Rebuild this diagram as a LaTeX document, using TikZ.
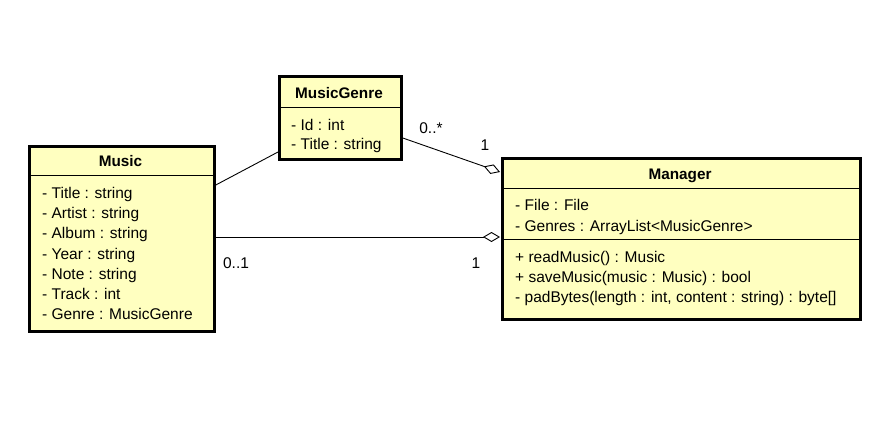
\documentclass[tikz,border=0pt]{standalone}
\usepackage{fontspec}
\setmainfont{Liberation Sans}
\usetikzlibrary{arrows.meta,calc}
\definecolor{umlfill}{HTML}{FFFFC0}
\tikzset{
  classbox/.style={draw=black, line width=2.8pt, fill=umlfill, anchor=north west, inner sep=0pt},
  hdr/.style={font=\fontsize{15.3}{18}\selectfont\bfseries, inner sep=0pt},
  row/.style={font=\fontsize{15.5}{18}\selectfont, anchor=base west, inner sep=0pt},
  sep/.style={line width=0.8pt},
  assoc/.style={line width=0.9pt},
  agg/.style={line width=0.9pt, {Diamond[fill=white,length=17pt,width=10pt,line width=0.9pt]}-},
  mult/.style={font=\fontsize{15.5}{18}\selectfont, inner sep=0pt}
}
\begin{document}
\begin{tikzpicture}[x=1pt,y=-1pt]
\useasboundingbox (0,0) rectangle (888,428);
% Music
\node[classbox, minimum width=185pt, minimum height=185pt] (music) at (28,145) {};
\node[hdr] (musicT) at (120.5,161) {Music};
\draw[sep] (28,175) -- (213,175);
\foreach \t [count=\i from 0] in {- Title : string, - Artist : string, - Album : string, - Year : string, - Note : string, - Track : int, - Genre : MusicGenre}
  \node[row] (mrow\i) at (42,{198.5+20.2*\i}) {\t};
% MusicGenre
\node[classbox, minimum width=122pt, minimum height=83pt] (genre) at (278,75) {};
\node[hdr] (genreT) at (339,93) {MusicGenre};
\draw[sep] (278,107) -- (400,107);
\node[row] (grow0) at (291,130.5) {- Id : int};
\node[row] (grow1) at (291,149.5) {- Title : string};
% Manager
\node[classbox, minimum width=358pt, minimum height=161pt] (manager) at (501,157) {};
\node[hdr] (managerT) at (680,176) {Manager};
\draw[sep] (501,188) -- (859,188);
\draw[sep] (501,239) -- (859,239);
\node[row] (r0) at (515,210.5) {- File : File};
\node[row] (r1) at (515,231.5) {- Genres : ArrayList<MusicGenre>};
\node[row] (r2) at (515,262.5) {+ readMusic() : Music};
\node[row] (r3) at (515,282.5) {+ saveMusic(music : Music) : bool};
\node[row] (r4) at (515,302.5) {- padBytes(length : int, content : string) : byte[]};
% connectors
\coordinate (mA) at ($(music.north east)+(0,40)$);
\coordinate (gA) at ($(genre.north west)+(0,77)$);
\draw[assoc] (mA) -- (gA);
\coordinate (gB) at ($(genre.north east)+(0,63)$);
\coordinate (manA) at ($(manager.north west)+(-1,15)$);
\draw[agg] (manA) -- (gB);
\coordinate (mB) at ($(music.north east)+(0,92)$);
\coordinate (manB) at ($(manager.north west)+(-1,80)$);
\draw[agg] (manB) -- (mB);
% multiplicities
\node[mult] (m1) at (431,128) {0..*};
\node[mult] (m2) at (485,145) {1};
\node[mult] (m3) at (236,263) {0..1};
\node[mult] (m4) at (476,263) {1};
\end{tikzpicture}
\end{document}
